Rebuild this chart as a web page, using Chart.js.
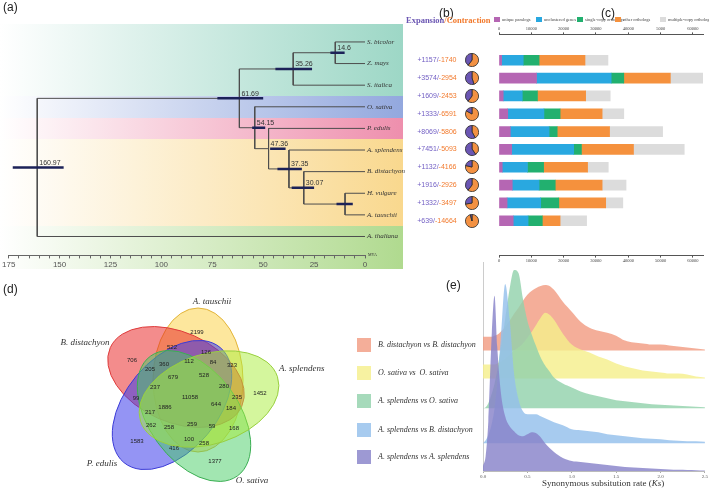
<!DOCTYPE html>
<html>
<head>
<meta charset="utf-8">
<script src="https://cdn.jsdelivr.net/npm/chart.js@4.4.0/dist/chart.umd.min.js"></script>
<style>
  body { margin: 0; background: #fff; }
  #fig { position: relative; width: 709px; height: 490px; overflow: hidden; font-family: 'Liberation Sans', Arial, sans-serif; color: #222; }
  #fig canvas, #fig .t { position: absolute; }
  .panel { font-size: 12px; line-height: 12px; }
  .serif { font-family: 'Liberation Serif', serif; }
  .sw { position: absolute; }
</style>
</head>
<body>
<div id="fig">
  <canvas id="tree" width="405" height="275" style="left:0;top:0"></canvas>
  <canvas id="bars" width="309" height="275" style="left:400px;top:0"></canvas>
  <canvas id="venn" width="330" height="210" style="left:0;top:280px"></canvas>
  <canvas id="ridge" width="239" height="225" style="left:470px;top:258px"></canvas>

  <div class="t panel" style="left:3px;top:1px">(a)</div>
  <div class="t panel" style="left:439px;top:7px">(b)</div>
  <div class="t panel" style="left:601px;top:7px">(c)</div>
  <div class="t panel" style="left:3px;top:283px">(d)</div>
  <div class="t panel" style="left:446px;top:279px">(e)</div>

  <div class="t serif" style="left:406px;top:15px;font-size:8.5px;font-weight:bold;white-space:nowrap">
    <span style="color:#6b56b3">Expansion</span><span style="color:#f27a2d">/Contraction</span>
  </div>
  <div id="barLegend"></div>
  <div id="ksLegend"></div>
  <div class="t serif" style="left:542px;top:478px;font-size:9px;white-space:nowrap;color:#333">Synonymous subsitution rate (<i>Ks</i>)</div>
</div>

<script>
// ---------- (a) tree ----------
const species = ['S. bicolor', 'Z. mays', 'S. italica', 'O. sativa', 'P. edulis',
                 'A. splendens', 'B. distachyon', 'H. vulgare', 'A. tauschii', 'A. thaliana'];
const nodeNames = ['root', 'n61', 'n35', 'n14', 'n54', 'n47', 'n37', 'n30', 'n10'];
const nodeAges  = [160.97, 61.69, 35.26, 14.6, 54.15, 47.36, 37.35, 30.07, 9.8];
const nodeKids  = [['n61', 9], ['n35', 'n54'], ['n14', 2], [0, 1], [3, 'n47'], [4, 'n37'], [5, 'n30'], [6, 'n10'], [7, 8]];
const nodeCI    = [[148, 173], [50, 72.5], [26, 44], [10, 17], [49, 55.4], [39, 46.6], [31, 43], [25, 36], [6, 14]];
const nodeShown = [true, true, true, true, true, true, true, true, false];

// ---------- (b) gene family expansion / contraction ----------
const expansion   = [1157, 3574, 1609, 1333, 8069, 7451, 1132, 1916, 1332, 639];
const contraction = [1740, 2954, 2453, 6591, 5806, 5093, 4166, 2926, 3497, 14664];

// ---------- (c) gene categories ----------
const barSeries      = ['unique paralogs', 'unclustered genes', 'single-copy orthologs', 'other orthologs', 'multiple-copy orthologs'];
const uniqueParalogs = [800, 11600, 1300, 2700, 3500, 3900, 1000, 4100, 2500, 4400];
const unclustered    = [6700, 23100, 5900, 11200, 12000, 19200, 7800, 8300, 10400, 4600];
const singleCopy     = [4900, 3900, 4700, 5000, 2500, 2400, 5000, 5000, 5600, 4400];
const otherOrthologs = [14200, 14400, 14900, 13000, 16200, 16100, 13600, 14500, 14500, 5500];
const multiCopy      = [7100, 10000, 7600, 6700, 16400, 15700, 6400, 7400, 5300, 8200];
const countTicks     = [0, 10000, 20000, 30000, 40000, 50000, 60000];
const countTopLabels = ['0', '10000', '20000', '30000', '40000', '5000', '60000'];

// ---------- (d) venn ----------
const vennSets   = ['A. tauschii', 'B. distachyon', 'P. edulis', 'O. sativa', 'A. splendens'];
const vennCounts = [2199, 522, 126, 706, 323, 360, 112, 84, 205, 679, 528, 1452, 237, 280, 11058,
                    99, 235, 1886, 644, 184, 217, 262, 258, 259, 59, 168, 1583, 100, 258, 416, 1377];

// ---------- (e) Ks distributions ----------
const ksPairs = ['B. distachyon vs B. distachyon', 'O. sativa vs  O. sativa', 'A. splendens vs O. sativa',
                 'A. splendens vs B. distachyon', 'A. splendens vs A. splendens'];
const ksGrid = [0, 0.03, 0.06, 0.1, 0.13, 0.16, 0.2, 0.25, 0.3, 0.35, 0.4, 0.45, 0.5, 0.55, 0.6, 0.65, 0.7, 0.75,
                0.8, 0.9, 1.0, 1.1, 1.2, 1.3, 1.4, 1.5, 1.6, 1.7, 1.8, 1.9, 2.0, 2.1, 2.2, 2.3, 2.4, 2.5];
const ksBdBd = [1.4, 1.4, 1.4, 1.4, 1.5, 1.6, 1.9, 2.4, 3.0, 3.7, 4.3, 5.0, 5.6, 6.0, 6.3, 6.5, 6.6, 6.5,
                6.1, 4.9, 3.9, 2.9, 2.3, 2.0, 1.8, 1.5, 1.0, 0.8, 0.7, 0.6, 0.6, 0.5, 0.4, 0.3, 0.2, 0.1];
const ksOsOs = [1.4, 1.4, 1.4, 1.4, 1.4, 1.5, 1.7, 2.0, 2.4, 2.8, 3.1, 3.5, 4.1, 4.7, 5.4, 6.1, 6.6, 6.4,
                5.9, 4.5, 3.4, 2.9, 2.6, 2.2, 1.9, 1.5, 1.2, 1.0, 0.8, 0.7, 0.6, 0.5, 0.5, 0.4, 0.2, 0.1];
const ksAsOs = [0, 0.1, 0.5, 1.5, 2.5, 3.8, 6.0, 9.0, 12.0, 13.9, 13.6, 11.0, 8.8, 7.4, 6.2, 5.1, 4.3, 3.7,
                3.1, 2.5, 2.1, 1.7, 1.4, 1.2, 1.0, 0.8, 0.7, 0.6, 0.5, 0.4, 0.35, 0.3, 0.25, 0.2, 0.15, 0.1];
const ksAsBd = [0, 0.3, 0.8, 2.0, 3.5, 6.0, 10.5, 16.0, 12.5, 7.0, 4.4, 3.2, 2.9, 2.9, 2.9, 2.7, 2.5, 2.3,
                2.1, 1.8, 1.4, 1.3, 1.2, 1.1, 0.9, 0.8, 0.7, 0.6, 0.5, 0.45, 0.4, 0.3, 0.25, 0.2, 0.2, 0.15];
const ksAsAs = [0.5, 1.5, 5.0, 14.0, 17.6, 12.5, 8.0, 5.5, 4.5, 4.0, 3.6, 3.5, 3.7, 3.9, 3.8, 3.4, 2.8, 2.3,
                1.9, 1.3, 1.0, 0.9, 0.8, 0.7, 0.6, 0.5, 0.4, 0.35, 0.3, 0.25, 0.2, 0.15, 0.12, 0.1, 0.08, 0.05];
const ksTicks = [0, 0.5, 1.0, 1.5, 2.0, 2.5];

// ---------- styles / layout ----------
const bandRows   = [[-0.83, 2.5], [2.5, 3.5], [3.5, 4.5], [4.5, 8.5], [8.5, 10.52]];
const bandColors = ['#9dd7c6', '#93a8de', '#ee8fad', '#f9d88e', '#b0da8f'];
const barColors  = ['#b566b3', '#29a8e0', '#22b06f', '#f5913d', '#dcdcdc'];
const barLegendX = [494, 536, 577, 615, 660];
const vennFill   = ['rgba(252,208,60,0.5)', 'rgba(232,35,35,0.52)', 'rgba(60,60,235,0.55)', 'rgba(70,205,100,0.5)', 'rgba(170,238,60,0.5)'];
const vennLine   = ['#e2b43a', '#de3b3b', '#3a3ad6', '#3aae52', '#98cf3e'];
// ellipse outlines: centre x, centre y, semi-minor, semi-major, direction of the major axis (deg)
const vennShapes = [[198, 100, 45, 72, 90], [176, 97, 45, 72, 156], [172, 125, 46, 75, 230],
                    [194, 136, 45, 74, 306], [209, 119, 45, 72, 18]];
const vennSpots = [[197,52],[172,67],[206,72],[132,80],[232,85],[164,84],[189,81],[213,82],[150,89],[173,97],
                   [204,95],[260,113],[155,107],[224,106],[190,117],[136,118],[237,117],[165,127],[216,124],
                   [231,128],[150,132],[151,145],[169,147],[192,144],[212,146],[234,148],[137,161],[189,159],
                   [204,163],[174,168],[215,181]];
const vennNamePos = [[212, 22, 'center'], [85, 63, 'center'], [102, 184, 'center'], [252, 201, 'center'], [279, 89, 'left']];
const ridgeBase   = [12.1, 9.3, 6.3, 2.8, 0];
const ridgeColors = ['rgba(241,156,131,0.82)', 'rgba(245,239,140,0.82)', 'rgba(146,210,172,0.82)', 'rgba(148,192,235,0.82)', 'rgba(136,131,201,0.82)'];
const ksLegendTop = [338, 366, 394, 423, 450];

Chart.defaults.animation = false;
Chart.defaults.responsive = false;
Chart.defaults.devicePixelRatio = 1;
Chart.defaults.font.family = "'Liberation Sans', Arial, sans-serif";
Chart.defaults.plugins.legend.display = false;
Chart.defaults.plugins.tooltip.enabled = false;

// ---------- tree geometry ----------
function nodeRow(k) {
  if (typeof k === 'number') return k;
  const [a, b] = nodeKids[nodeNames.indexOf(k)];
  return (nodeRow(a) + nodeRow(b)) / 2;
}
function nodeAge(k) { return typeof k === 'number' ? 0 : nodeAges[nodeNames.indexOf(k)]; }

const branchPts = [];
const ciPts = [];
nodeNames.forEach((name, i) => {
  const age = nodeAges[i];
  const [a, b] = nodeKids[i];
  branchPts.push({ x: age, y: nodeRow(a) }, { x: age, y: nodeRow(b) }, { x: null, y: null });
  [a, b].forEach(k => branchPts.push({ x: age, y: nodeRow(k) }, { x: nodeAge(k), y: nodeRow(k) }, { x: null, y: null }));
  const r = nodeRow(name);
  ciPts.push({ x: nodeCI[i][0], y: r }, { x: nodeCI[i][1], y: r }, { x: null, y: null });
});

const treeDecor = {
  id: 'treeDecor',
  beforeDraw(chart) {
    const { ctx, scales: { y } } = chart;
    ctx.save();
    bandRows.forEach(([r0, r1], i) => {
      const g = ctx.createLinearGradient(0, 0, 403, 0);
      g.addColorStop(0, '#ffffff');
      g.addColorStop(1, bandColors[i]);
      ctx.fillStyle = g;
      const y0 = Math.round(y.getPixelForValue(r0)), y1 = Math.round(y.getPixelForValue(r1));
      ctx.fillRect(0, y0, 403, y1 - y0);
    });
    ctx.restore();
  },
  afterDatasetsDraw(chart) {
    const { ctx, scales: { x, y } } = chart;
    ctx.save();
    ctx.fillStyle = '#333';
    ctx.font = "italic 7px 'Liberation Serif'";
    ctx.textBaseline = 'middle';
    species.forEach((s, i) => ctx.fillText(s, x.getPixelForValue(0) + 2, y.getPixelForValue(i)));
    ctx.font = "7px 'Liberation Sans'";
    ctx.textBaseline = 'bottom';
    nodeNames.forEach((n, i) => {
      if (!nodeShown[i]) return;
      ctx.fillText(String(nodeAges[i]), x.getPixelForValue(nodeAges[i]) + 2, y.getPixelForValue(nodeRow(n)) - 1);
    });
    ctx.font = "4px 'Liberation Serif'";
    ctx.textBaseline = 'middle';
    ctx.fillText('MYA', x.getPixelForValue(0) + 3, chart.chartArea.bottom);
    ctx.restore();
  }
};

new Chart(document.getElementById('tree'), {
  type: 'scatter',
  data: {
    datasets: [
      { data: ciPts, showLine: true, borderColor: '#1c2258', borderWidth: 2.5, pointRadius: 0, order: 0 },
      { data: branchPts, showLine: true, borderColor: '#4d4d4d', borderWidth: 1, pointRadius: 0, order: 1 }
    ]
  },
  options: {
    layout: { padding: { left: 8, right: 40, top: 24, bottom: 3 } },
    scales: {
      x: {
        type: 'linear', min: 0, max: 175, reverse: true,
        ticks: { stepSize: 5, autoSkip: false, maxRotation: 0, padding: 2, color: '#555', font: { size: 8 },
                 callback: v => v % 25 === 0 ? v : '' },
        grid: { drawOnChartArea: false, tickLength: 3, color: '#666' },
        border: { color: '#666' }
      },
      y: { type: 'linear', min: -0.83, max: 9.875, reverse: true, display: false }
    }
  },
  plugins: [treeDecor]
});

// ---------- (b) + (c) ----------
const gainLossText = {
  id: 'gainLoss',
  afterDraw(chart) {
    const { ctx, scales: { y } } = chart;
    ctx.save();
    ctx.font = "7px 'Liberation Sans'";
    ctx.textBaseline = 'middle';
    expansion.forEach((e, i) => {
      const a = '+' + e + '/', b = '-' + contraction[i];
      const wa = ctx.measureText(a).width, wb = ctx.measureText(b).width;
      const x0 = 37 - (wa + wb) / 2, yy = y.getPixelForValue(i);
      ctx.fillStyle = '#7360c4'; ctx.fillText(a, x0, yy);
      ctx.fillStyle = '#f27a2d'; ctx.fillText(b, x0 + wa, yy);
    });
    ctx.restore();
  }
};

const barValues = [uniqueParalogs, unclustered, singleCopy, otherOrthologs, multiCopy];
const axisStyle = {
  type: 'linear', min: 0, max: 63100,
  afterBuildTicks: s => { s.ticks = countTicks.map(v => ({ value: v })); },
  ticks: { maxRotation: 0, autoSkip: false, padding: 1, color: '#444',
           font: { size: 4.5, family: "'Liberation Serif'" }, callback: v => String(v) },
  grid: { drawOnChartArea: false, tickLength: 2, color: '#555' },
  border: { color: '#555' }
};
const barChart = new Chart(document.getElementById('bars'), {
  type: 'bar',
  data: {
    datasets: barSeries.map((name, s) => ({
      label: name,
      data: barValues[s].map((v, i) => ({ x: v, y: i })),
      backgroundColor: barColors[s],
      borderWidth: 0,
      barThickness: 10,
      xAxisID: 'x'
    }))
  },
  options: {
    indexAxis: 'y',
    layout: { padding: { left: 99, right: 6, top: 25, bottom: 10 } },
    scales: {
      x: { ...axisStyle, position: 'bottom', stacked: true },
      xTop: { ...axisStyle, position: 'top',
              ticks: { ...axisStyle.ticks, callback: (v, i) => countTopLabels[i] } },
      y: { type: 'linear', min: -0.415, max: 9.92, reverse: true, stacked: true, display: false }
    }
  },
  plugins: [gainLossText]
});

// pies for (b), one per species row
const fig = document.getElementById('fig');
species.forEach((s, i) => {
  const cv = document.createElement('canvas');
  cv.width = 14; cv.height = 14;
  cv.style.left = '465px';
  cv.style.top = (barChart.scales.y.getPixelForValue(i) - 7) + 'px';
  fig.appendChild(cv);
  new Chart(cv, {
    type: 'pie',
    data: { labels: ['contraction', 'expansion'],
            datasets: [{ data: [contraction[i], expansion[i]], backgroundColor: ['#f39142', '#6b56b3'],
                         borderColor: '#2b2b2b', borderWidth: 0.8 }] },
    options: { layout: { padding: 0 } }
  });
});

// legend for (c)
const barLegend = document.getElementById('barLegend');
barSeries.forEach((name, s) => {
  const d = document.createElement('div');
  d.className = 't serif';
  d.style.cssText = `left:${barLegendX[s]}px;top:17px;font-size:4.5px;line-height:6px;color:#444;white-space:nowrap;`;
  d.innerHTML = `<span style="display:inline-block;width:6px;height:5px;background:${barColors[s]};vertical-align:middle;margin-right:2px"></span>${name}`;
  barLegend.appendChild(d);
});

// ---------- (d) venn ----------
const vennDecor = {
  id: 'vennDecor',
  beforeDatasetsDraw(chart) {
    const { ctx, scales: { x, y } } = chart;
    const unit = x.getPixelForValue(1) - x.getPixelForValue(0);
    ctx.save();
    vennShapes.forEach(([cx, cy, rMin, rMaj, deg], k) => {
      const rot = -(deg - 90) * Math.PI / 180;
      ctx.beginPath();
      ctx.ellipse(x.getPixelForValue(cx), y.getPixelForValue(cy), rMin * unit, rMaj * unit, rot, 0, Math.PI * 2);
      ctx.fillStyle = vennFill[k];
      ctx.fill();
      ctx.lineWidth = 1;
      ctx.strokeStyle = vennLine[k];
      ctx.stroke();
    });
    ctx.restore();
  },
  afterDatasetsDraw(chart) {
    const { ctx, scales: { x, y } } = chart;
    const pts = chart.getDatasetMeta(0).data;
    ctx.save();
    ctx.fillStyle = '#222';
    ctx.font = "6px 'Liberation Sans'";
    ctx.textAlign = 'center';
    ctx.textBaseline = 'middle';
    vennCounts.forEach((c, i) => ctx.fillText(String(c), pts[i].x, pts[i].y));
    ctx.font = "italic 9px 'Liberation Serif'";
    ctx.fillStyle = '#333';
    vennSets.forEach((name, k) => {
      const [px, py, al] = vennNamePos[k];
      ctx.textAlign = al;
      ctx.fillText(name, x.getPixelForValue(px), y.getPixelForValue(py));
    });
    ctx.restore();
  }
};

new Chart(document.getElementById('venn'), {
  type: 'scatter',
  data: { datasets: [{ data: vennSpots.map(([x, y]) => ({ x, y })), pointRadius: 0 }] },
  options: {
    layout: { padding: 0 },
    scales: {
      x: { type: 'linear', min: 0, max: 330, display: false },
      y: { type: 'linear', min: 0, max: 210, reverse: true, display: false }
    }
  },
  plugins: [vennDecor]
});

// ---------- (e) ridgeline ----------
const ksDensity = [ksBdBd, ksOsOs, ksAsOs, ksAsBd, ksAsAs];
new Chart(document.getElementById('ridge'), {
  type: 'line',
  data: {
    datasets: ksPairs.map((name, i) => ({
      label: name,
      data: ksGrid.map((k, j) => ({ x: k, y: ridgeBase[i] + ksDensity[i][j] })),
      fill: { value: ridgeBase[i] },
      backgroundColor: ridgeColors[i],
      borderWidth: 0,
      pointRadius: 0,
      cubicInterpolationMode: 'monotone',
      order: 4 - i
    }))
  },
  options: {
    layout: { padding: { left: 13, right: 0, top: 4, bottom: 2 } },
    scales: {
      x: {
        type: 'linear', min: 0, max: 2.5,
        afterBuildTicks: s => { s.ticks = ksTicks.map(v => ({ value: v })); },
        ticks: { maxRotation: 0, autoSkip: false, padding: 1, color: '#555', font: { size: 5, family: "'Liberation Serif'" },
                 callback: v => Number(v).toFixed(1) },
        grid: { drawOnChartArea: false, tickLength: 2, color: '#aaa' },
        border: { color: '#bbb' }
      },
      y: {
        type: 'linear', min: 0, max: 21,
        ticks: { display: false },
        grid: { display: false, drawTicks: false },
        border: { color: '#ccc' }
      }
    }
  }
});

const ksLegend = document.getElementById('ksLegend');
ksPairs.forEach((name, i) => {
  const sw = document.createElement('div');
  sw.className = 'sw';
  sw.style.cssText = `left:357px;top:${ksLegendTop[i]}px;width:14px;height:14px;background:${ridgeColors[i]};`;
  ksLegend.appendChild(sw);
  const tx = document.createElement('div');
  tx.className = 't serif';
  tx.style.cssText = `left:378px;top:${ksLegendTop[i] + 2}px;font-size:8px;line-height:10px;font-style:italic;color:#333;white-space:pre;`;
  tx.textContent = name;
  ksLegend.appendChild(tx);
});
</script>
</body>
</html>
